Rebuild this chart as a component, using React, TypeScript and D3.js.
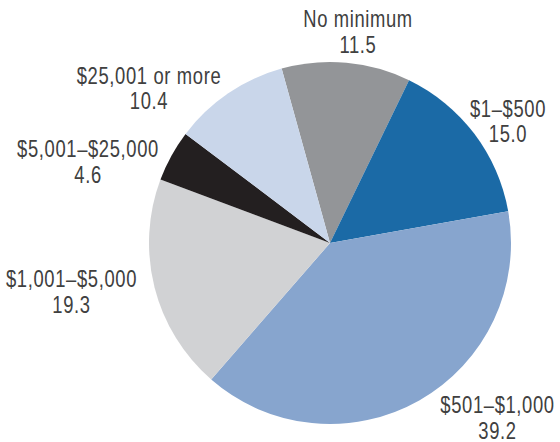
import React from "react";
import * as d3 from "d3";

const categories = ["No minimum", "$1–$500", "$501–$1,000", "$1,001–$5,000", "$5,001–$25,000", "$25,001 or more"];
const values = [11.5, 15.0, 39.2, 19.3, 4.6, 10.4];
const valueLabels = ["11.5", "15.0", "39.2", "19.3", "4.6", "10.4"];
const colors = ["#939598", "#1b6aa6", "#87a5ce", "#d1d2d4", "#231f20", "#c9d6ea"];
// label anchor positions (center of first line baseline)
const labelPos: [number, number][] = [
  [358, 27],
  [508, 116.5],
  [497.5, 413],
  [71.5, 287],
  [88, 157],
  [149, 83.5],
];

export default function App() {
  const W = 560, H = 442;
  const cx = 330, cy = 243, r = 181;
  const start = (-15.5 * Math.PI) / 180;
  const pie = d3.pie<number>().sort(null).value((d) => d).startAngle(start).endAngle(start + 2 * Math.PI);
  const arcs = pie(values);
  const arc = d3.arc<d3.PieArcDatum<number>>().innerRadius(0).outerRadius(r);
  return (
    <svg width={W} height={H} style={{ position: "absolute", left: 0, top: 0 }}>
      <rect width={W} height={H} fill="#fff" />
      <g transform={`translate(${cx},${cy})`}>
        {arcs.map((a, i) => (
          <path key={i} d={arc(a) || ""} fill={colors[i]} />
        ))}
      </g>
      {categories.map((c, i) => (
        <text
          key={i}
          transform={`translate(${labelPos[i][0]},${labelPos[i][1]}) scale(0.8,1)`}
          textAnchor="middle"
          fontFamily="'Liberation Sans', Arial, sans-serif"
          fontSize={23}
          letterSpacing={0.8}
          fill="#404040"
        >
          <tspan x={0} y={0}>{c}</tspan>
          <tspan x={0} y={25.8}>{valueLabels[i]}</tspan>
        </text>
      ))}
    </svg>
  );
}
